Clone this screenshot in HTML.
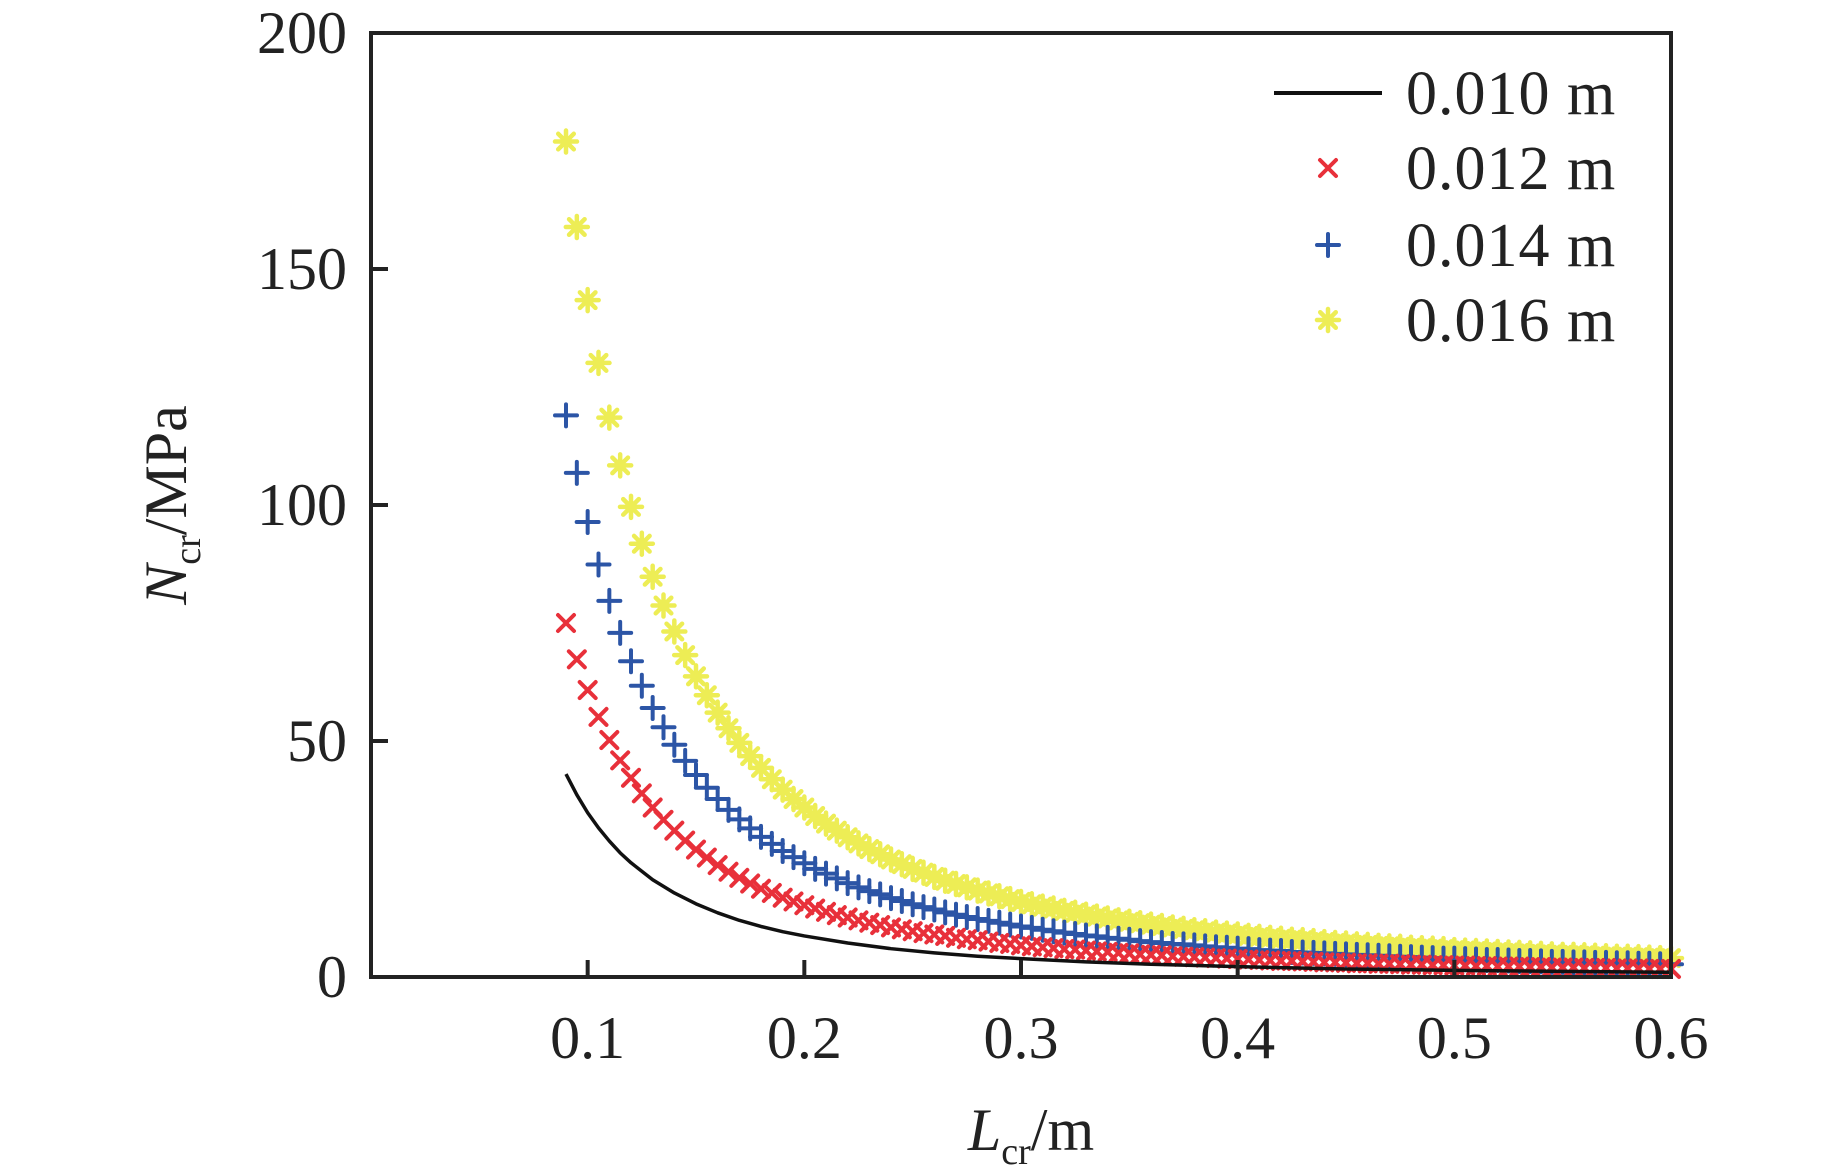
<!DOCTYPE html>
<html><head><meta charset="utf-8"><style>
html,body{margin:0;padding:0;background:#fff;}
svg{display:block;}
text{font-family:"Liberation Serif","Times New Roman",serif;}
</style></head><body>
<svg id="chart" width="1843" height="1169" viewBox="0 0 1843 1169" xmlns="http://www.w3.org/2000/svg">
<g id="marks"></g>
<g id="axes"></g>
<g id="legend"></g>
</svg>
<script>
const xTickLabels = ["0.1","0.2","0.3","0.4","0.5","0.6"];
const xTickValues = [0.1,0.2,0.3,0.4,0.5,0.6];
const yTickLabels = ["0","50","100","150","200"];
const yTickValues = [0,50,100,150,200];
const lineX = [0.09,0.095,0.10,0.105,0.11,0.115,0.12,0.13,0.14,0.15,0.16,0.17,0.18,0.19,0.20,0.22,0.24,0.26,0.28,0.30,0.33,0.36,0.40,0.45,0.50,0.55,0.60];
const seriesBlack = [43.0,38.6,34.8,31.6,28.8,26.3,24.2,20.6,17.8,15.5,13.6,12.0,10.7,9.6,8.7,7.2,6.0,5.1,4.4,3.9,3.2,2.7,2.2,1.7,1.4,1.2,1.0];
const markerX = [0.090,0.095,0.100,0.105,0.110,0.115,0.120,0.125,0.130,0.135,0.140,0.145,0.150,0.155,0.160,0.165,0.170,0.175,0.180,0.185,0.190,0.195,0.200,0.205,0.210,0.215,0.220,0.225,0.230,0.235,0.240,0.245,0.250,0.255,0.260,0.265,0.270,0.275,0.280,0.285,0.290,0.295,0.300,0.305,0.310,0.315,0.320,0.325,0.330,0.335,0.340,0.345,0.350,0.355,0.360,0.365,0.370,0.375,0.380,0.385,0.390,0.395,0.400,0.405,0.410,0.415,0.420,0.425,0.430,0.435,0.440,0.445,0.450,0.455,0.460,0.465,0.470,0.475,0.480,0.485,0.490,0.495,0.500,0.505,0.510,0.515,0.520,0.525,0.530,0.535,0.540,0.545,0.550,0.555,0.560,0.565,0.570,0.575,0.580,0.585,0.590,0.595,0.600];
const seriesRed = [75.0,67.3,60.8,55.1,50.2,45.9,42.2,38.9,35.9,33.3,31.0,28.9,27.0,25.3,23.7,22.3,21.0,19.8,18.7,17.8,16.8,16.0,15.2,14.5,13.8,13.1,12.6,12.0,11.5,11.0,10.5,10.1,9.7,9.3,9.0,8.7,8.3,8.0,7.8,7.5,7.2,7.0,6.7,6.5,6.3,6.1,5.9,5.8,5.6,5.4,5.3,5.1,5.0,4.8,4.7,4.6,4.4,4.3,4.2,4.1,4.0,3.9,3.8,3.7,3.6,3.5,3.4,3.4,3.3,3.2,3.1,3.1,3.0,2.9,2.9,2.8,2.8,2.7,2.6,2.6,2.5,2.5,2.4,2.4,2.3,2.3,2.2,2.2,2.2,2.1,2.1,2.0,2.0,2.0,1.9,1.9,1.9,1.8,1.8,1.8,1.7,1.7,1.7];
const seriesBlue = [119.0,106.8,96.4,87.4,79.7,72.9,66.9,61.7,57.0,52.9,49.2,45.8,42.8,40.1,37.7,35.4,33.4,31.5,29.7,28.2,26.7,25.4,24.1,22.9,21.9,20.9,19.9,19.0,18.2,17.5,16.7,16.1,15.4,14.8,14.3,13.7,13.2,12.7,12.3,11.9,11.5,11.1,10.7,10.4,10.0,9.7,9.4,9.1,8.8,8.6,8.3,8.1,7.9,7.6,7.4,7.2,7.0,6.9,6.7,6.5,6.3,6.2,6.0,5.9,5.7,5.6,5.5,5.3,5.2,5.1,5.0,4.9,4.8,4.7,4.6,4.5,4.4,4.3,4.2,4.1,4.0,3.9,3.9,3.8,3.7,3.6,3.6,3.5,3.4,3.4,3.3,3.2,3.2,3.1,3.1,3.0,3.0,2.9,2.9,2.8,2.8,2.7,2.7];
const seriesYellow = [177.0,158.9,143.4,130.1,118.5,108.4,99.6,91.8,84.8,78.7,73.2,68.2,63.7,59.7,56.0,52.7,49.6,46.8,44.3,41.9,39.7,37.7,35.9,34.1,32.5,31.0,29.6,28.3,27.1,26.0,24.9,23.9,22.9,22.1,21.2,20.4,19.7,19.0,18.3,17.7,17.1,16.5,15.9,15.4,14.9,14.5,14.0,13.6,13.2,12.8,12.4,12.0,11.7,11.4,11.1,10.8,10.5,10.2,9.9,9.7,9.4,9.2,9.0,8.7,8.5,8.3,8.1,7.9,7.8,7.6,7.4,7.2,7.1,6.9,6.8,6.6,6.5,6.4,6.2,6.1,6.0,5.9,5.7,5.6,5.5,5.4,5.3,5.2,5.1,5.0,4.9,4.8,4.7,4.7,4.6,4.5,4.4,4.3,4.3,4.2,4.1,4.0,4.0];
const legendLabels = ["0.010 m","0.012 m","0.014 m","0.016 m"];

const NS="http://www.w3.org/2000/svg";
const FF='"Liberation Serif","Times New Roman",serif';
const L=371,R=1671,T=33,B=977;
const sx=v=>L+(v-0)/(0.6-0)*(R-L);
const sy=v=>B-(v-0)/(200-0)*(B-T);
function mk(tag,attrs,parent){const e=document.createElementNS(NS,tag);for(const k in attrs)e.setAttribute(k,attrs[k]);parent.appendChild(e);return e;}
const marks=document.getElementById('marks'),axes=document.getElementById('axes'),legend=document.getElementById('legend');
const cX="#e8303a",cB="#2c55a6",cY="#eded55";
function drawX(g,x,y,s){mk('path',{d:`M${x-s} ${y-s}L${x+s} ${y+s}M${x-s} ${y+s}L${x+s} ${y-s}`,stroke:cX,'stroke-width':4,'stroke-linecap':'round',fill:'none'},g);}
function drawP(g,x,y,s){mk('path',{d:`M${x-s} ${y}L${x+s} ${y}M${x} ${y-s}L${x} ${y+s}`,stroke:cB,'stroke-width':4,'stroke-linecap':'round',fill:'none'},g);}
function drawS(g,x,y,s){let d='';for(let i=0;i<4;i++){const a=i*Math.PI/4;const dx=s*Math.sin(a),dy=s*Math.cos(a);d+=`M${x-dx} ${y-dy}L${x+dx} ${y+dy}`;}mk('path',{d,stroke:cY,'stroke-width':4.5,'stroke-linecap':'round',fill:'none'},g);}

const gy=mk('g',{},marks);
markerX.forEach((x,i)=>drawS(gy,sx(x),sy(seriesYellow[i]),11));
const gb=mk('g',{},marks);
markerX.forEach((x,i)=>drawP(gb,sx(x),sy(seriesBlue[i]),11));
const gr=mk('g',{},marks);
markerX.forEach((x,i)=>drawX(gr,sx(x),sy(seriesRed[i]),8));
let d='';lineX.forEach((x,i)=>{d+=(i?'L':'M')+sx(x)+' '+sy(seriesBlack[i]);});
const pl=mk('path',{d,stroke:'#111',fill:'none','stroke-width':3.5,'stroke-linejoin':'round'},marks);



const frame=mk('rect',{x:L,y:T,width:R-L,height:B-T,fill:'none',stroke:'#222','stroke-width':4},axes);


xTickValues.forEach((v,i)=>{
  mk('line',{x1:sx(v),x2:sx(v),y1:B,y2:B-17,stroke:'#222','stroke-width':4},axes);
  const t=mk('text',{x:sx(v),y:B+81,'text-anchor':'middle','font-size':60,'font-family':FF,fill:'#222'},axes);t.textContent=xTickLabels[i];
  
  
});
yTickValues.forEach((v,i)=>{
  mk('line',{x1:L,x2:L+17,y1:sy(v),y2:sy(v),stroke:'#222','stroke-width':4},axes);
  const t=mk('text',{x:347,y:sy(v)+20,'text-anchor':'end','font-size':60,'font-family':FF,fill:'#222'},axes);t.textContent=yTickLabels[i];
  
  
});
const xt=mk('text',{x:1031,y:1150,'text-anchor':'middle','font-size':60,'font-family':FF,fill:'#222'},axes);
xt.innerHTML='<tspan font-style="italic">L</tspan><tspan font-size="38" dy="14">cr</tspan><tspan dy="-14">/m</tspan>';


const yt=mk('text',{x:0,y:0,'text-anchor':'middle','font-size':60,'font-family':FF,fill:'#222',transform:'translate(186,505) rotate(-90)'},axes);
yt.innerHTML='<tspan font-style="italic">N</tspan><tspan font-size="38" dy="14">cr</tspan><tspan dy="-14">/MPa</tspan>';



const ly=[93,168,245,320];
legendLabels.forEach((lab,i)=>{
  const g=mk('g',{},legend);
  
  
  if(i===0)mk('line',{x1:1274,x2:1382,y1:ly[0],y2:ly[0],stroke:'#111','stroke-width':4},g);
  if(i===1)drawX(g,1328,ly[1],8);
  if(i===2)drawP(g,1328,ly[2],11);
  if(i===3)drawS(g,1328,ly[3],11);
  const t=mk('text',{x:1406,y:ly[i]+21,'font-size':62,'font-family':FF,fill:'#222','letter-spacing':1},g);t.textContent=lab;
});
</script>
</body></html>
